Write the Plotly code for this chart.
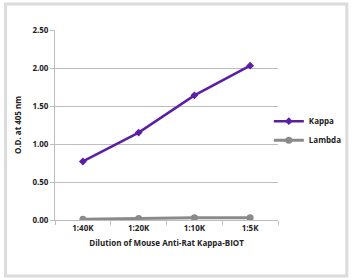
import plotly.graph_objects as go

categories = ["1:40K", "1:20K", "1:10K", "1:5K"]
kappa = [0.77, 1.15, 1.64, 2.03]
lambda_vals = [0.01, 0.02, 0.03, 0.03]
y_ticks = [0.0, 0.5, 1.0, 1.5, 2.0, 2.5]
y_tick_labels = ["0.00", "0.50", "1.00", "1.50", "2.00", "2.50"]

FONT = "Open Sans"

fig = go.Figure()
fig.add_trace(go.Scatter(x=categories, y=kappa, name="Kappa", mode="lines+markers",
                         line=dict(color="#5a1fa6", width=2.5),
                         marker=dict(symbol="diamond", size=6, color="#5a1fa6")))
fig.add_trace(go.Scatter(x=categories, y=lambda_vals, name="Lambda", mode="lines+markers",
                         line=dict(color="#8a8a8a", width=3),
                         marker=dict(symbol="circle", size=7, color="#8a8a8a")))

L, R, T, B = 55, 74, 30, 60
W, H = 359, 280
pw, ph = W - L - R, H - T - B

def px(x):
    return (x - L) / pw

def py(y):
    return (H - B - y) / ph

fig.add_shape(type="rect", xref="paper", yref="paper",
              x0=px(4), x1=px(356), y0=py(276), y1=py(4),
              line=dict(color="#dcdcdc", width=3), layer="below")

fig.update_layout(
    width=W, height=H,
    margin=dict(l=L, r=R, t=T, b=B),
    paper_bgcolor="white", plot_bgcolor="white",
    font=dict(family=FONT, size=8, color="#222222"),
    showlegend=True,
    legend=dict(x=px(356), y=0.47, xanchor="right", yanchor="middle",
                font=dict(family=FONT, size=8, color="#222222", weight="bold"),
                tracegroupgap=8, itemwidth=30, bgcolor="rgba(0,0,0,0)"),
    xaxis=dict(type="category", showgrid=False, showline=True, linecolor="#bdbdbd",
               linewidth=1, ticks="outside", tickcolor="#bdbdbd", ticklen=4,
               tickson="boundaries", range=[-0.5, 3.5],
               tickfont=dict(family=FONT, size=8, weight="bold"),
               title=dict(text="Dilution of Mouse Anti-Rat Kappa-BIOT",
                          font=dict(family=FONT, size=8, weight="bold"), standoff=8)),
    yaxis=dict(range=[0, 2.5], tickvals=y_ticks, ticktext=y_tick_labels,
               showgrid=True, gridcolor="#bdbdbd", gridwidth=1,
               showline=True, linecolor="#bdbdbd", linewidth=1,
               ticks="outside", tickcolor="#bdbdbd", ticklen=4, zeroline=False,
               tickfont=dict(family=FONT, size=8, weight="bold"),
               title=dict(text="O.D. at 405 nm",
                          font=dict(family=FONT, size=8, weight="bold"), standoff=9)),
)

fig.write_html("out.html", config={"displayModeBar": False},
               post_script="document.body.style.margin='0';document.body.style.overflow='hidden';")
